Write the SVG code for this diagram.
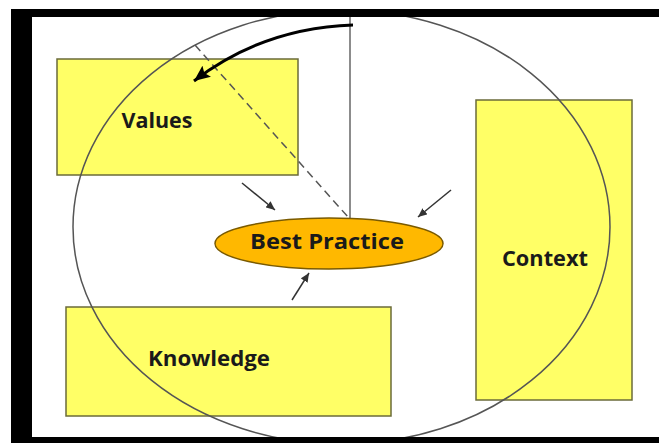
<svg xmlns="http://www.w3.org/2000/svg" width="659" height="443" viewBox="0 0 659 443">
<style>
.box{fill:#ffff66;stroke:#6b6b3a;stroke-width:1.5}
.lbl{font-family:"Open Sans","Liberation Sans",sans-serif;font-weight:bold;fill:#1a1a1a;text-anchor:middle}
.small{stroke:#333;stroke-width:1.5;fill:none}
.frame{fill:#000}
</style>
<defs>
<marker id="ah" markerUnits="userSpaceOnUse" markerWidth="10" markerHeight="8" refX="9" refY="4" orient="auto">
<path d="M0,0 L9,4 L0,8 z" fill="#333"/>
</marker>
<marker id="big" markerUnits="userSpaceOnUse" markerWidth="18" markerHeight="14" refX="16" refY="7" orient="auto">
<path d="M0,0 L16,7 L0,14 L3,7 z" fill="#000"/>
</marker>
</defs>
<rect x="0" y="0" width="659" height="443" fill="#fff"/>
<g id="values"><rect class="box" x="57" y="59" width="241" height="116"/><text class="lbl" x="157" y="128" font-size="21" textLength="71" lengthAdjust="spacingAndGlyphs">Values</text></g>
<g id="knowledge"><rect class="box" x="66" y="307" width="325" height="109"/><text class="lbl" x="209" y="366" font-size="21" textLength="122" lengthAdjust="spacingAndGlyphs">Knowledge</text></g>
<g id="context"><rect class="box" x="476" y="100" width="156" height="300"/><text class="lbl" x="545" y="266" font-size="21" textLength="86" lengthAdjust="spacingAndGlyphs">Context</text></g>
<g id="circle"><ellipse cx="341.5" cy="227" rx="268.5" ry="217" fill="none" stroke="#555" stroke-width="1.5"/></g>
<g id="connectors">
<line x1="350" y1="17" x2="350" y2="218" stroke="#666" stroke-width="1.5"/>
<line x1="195" y1="45" x2="348" y2="217" stroke="#555" stroke-width="1.5" stroke-dasharray="8,5"/>
<path d="M353,25 Q263,28 194,81" fill="none" stroke="#000" stroke-width="3" marker-end="url(#big)"/>
<line class="small" x1="242" y1="183" x2="275" y2="210" marker-end="url(#ah)"/>
<line class="small" x1="451" y1="190" x2="418" y2="217" marker-end="url(#ah)"/>
<line class="small" x1="292" y1="300" x2="309" y2="273" marker-end="url(#ah)"/>
</g>
<g id="best-practice"><ellipse cx="329" cy="243.5" rx="114" ry="25.5" fill="#ffb800" stroke="#7a5a00" stroke-width="1.5"/><text class="lbl" x="327" y="249" font-size="22" textLength="154" lengthAdjust="spacingAndGlyphs">Best Practice</text></g>
<g id="frame">
<rect class="frame" x="11" y="9" width="648" height="8"/>
<rect class="frame" x="11" y="9" width="21" height="434"/>
<rect class="frame" x="11" y="437" width="648" height="6"/>
</g>
</svg>
